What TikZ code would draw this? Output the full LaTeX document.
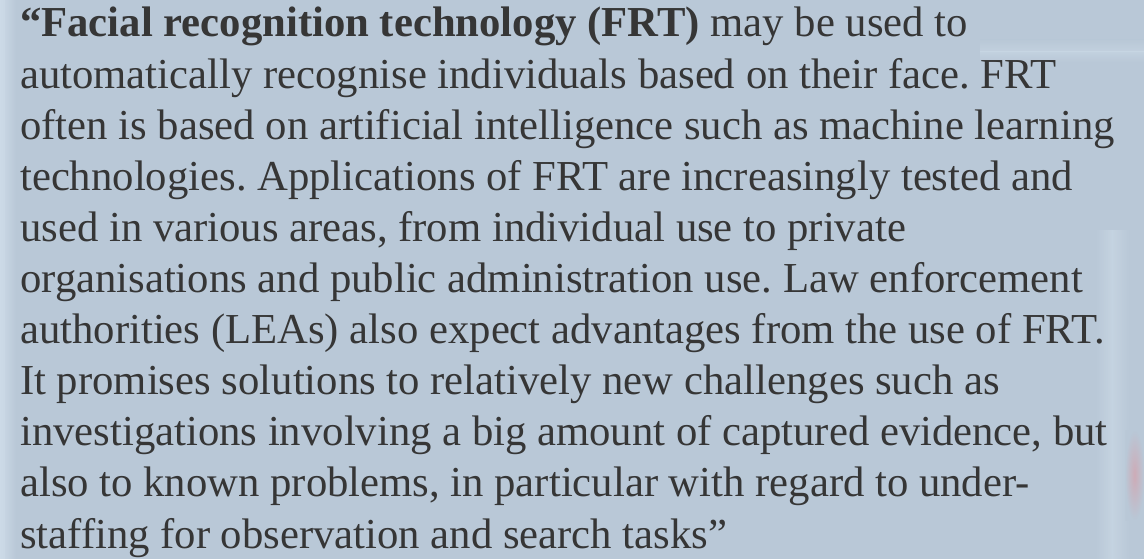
\documentclass[tikz,border=0pt]{standalone}
\usepackage{fontspec}
\setmainfont{Liberation Serif}
\definecolor{bgbase}{HTML}{B9C8D7}
\definecolor{bglight}{HTML}{CCDAE7}
\definecolor{bgdark}{HTML}{B0C0CF}
\definecolor{txt}{HTML}{363636}
\frenchspacing
\begin{document}
\begin{tikzpicture}[x=1pt,y=-1pt,
  line/.style={anchor=base west,inner sep=0pt,text=txt,font=\fontsize{42.7}{51}\selectfont}]
\useasboundingbox (0,0) rectangle (1144,559);
% background
\fill[bgbase] (0,0) rectangle (1144,559);
\shade[left color=bglight,right color=bgbase] (0,0) rectangle (16,559);
\fill[bglight,opacity=0.6] (0,0) rectangle (5,559);
\shade[top color=bgbase,bottom color=bglight,opacity=0.5] (980,40) rectangle (1144,52);
\shade[top color=bglight,bottom color=bgbase,opacity=0.5] (980,52) rectangle (1144,62);
\shade[left color=bgbase,right color=bglight,opacity=0.6] (1095,230) rectangle (1112,559);
\shade[left color=bglight,right color=bgbase,opacity=0.6] (1112,230) rectangle (1130,559);
\shade[inner color=red!30!bglight,outer color=bgbase,opacity=0.6] (1125,430) rectangle (1144,520);
% text lines
\node[line] (l1) at (20,37) {\textbf{“Facial recognition technology (FRT)} may be used to};
\node[line] (l2) at (20,88.1) {automatically recognise individuals based on their face. FRT};
\node[line] (l3) at (20,139.2) {often is based on artificial intelligence such as machine learning};
\node[line] (l4) at (20,190.3) {technologies. Applications of FRT are increasingly tested and};
\node[line] (l5) at (20,241.4) {used in various areas, from individual use to private};
\node[line] (l6) at (20,292.5) {organisations and public administration use. Law enforcement};
\node[line] (l7) at (20,343.6) {authorities (LEAs) also expect advantages from the use of FRT.};
\node[line] (l8) at (20,394.7) {It promises solutions to relatively new challenges such as};
\node[line] (l9) at (20,445.8) {investigations involving a big amount of captured evidence, but};
\node[line] (l10) at (20,496.9) {also to known problems, in particular with regard to under-};
\node[line] (l11) at (20,548) {staffing for observation and search tasks”};
\end{tikzpicture}
\end{document}
